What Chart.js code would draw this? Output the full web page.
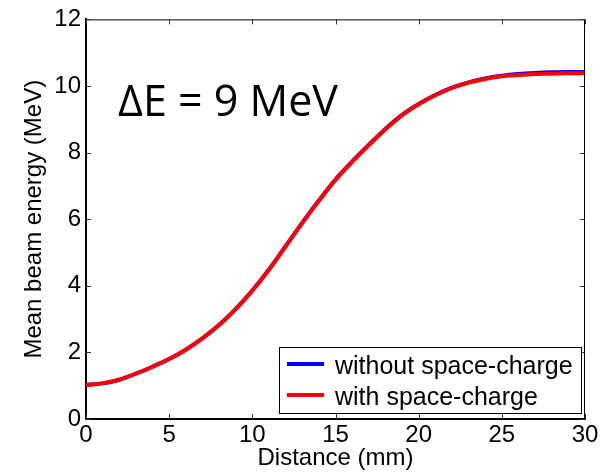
<!DOCTYPE html>
<html>
<head>
<meta charset="utf-8">
<script src="https://cdn.jsdelivr.net/npm/chart.js@4/dist/chart.umd.min.js"></script>
<style>
  html, body { margin: 0; padding: 0; background: #fff; }
  #wrap { width: 610px; height: 472px; position: relative; }
</style>
</head>
<body>
<div id="wrap"><canvas id="c" width="610" height="472"></canvas></div>
<script>
// Distance along the structure (mm)
const distance = [0,1,2,3,4,5,6,7,8,9,10,11,12,13,14,15,16,17,18,19,20,21,22,23,24,25,26,27,28,29,30];
// Mean beam energy (MeV), without space-charge
const energyNoSC = [1.02,1.07,1.18,1.36,1.57,1.80,2.08,2.42,2.82,3.30,3.86,4.49,5.19,5.89,6.56,7.19,7.73,8.23,8.71,9.13,9.46,9.73,9.95,10.11,10.23,10.31,10.36,10.39,10.41,10.42,10.42];
// Mean beam energy (MeV), with space-charge
const energySC = [1.02,1.07,1.18,1.36,1.57,1.80,2.08,2.42,2.82,3.30,3.85,4.48,5.18,5.88,6.55,7.18,7.72,8.22,8.70,9.12,9.45,9.72,9.94,10.10,10.21,10.29,10.33,10.36,10.37,10.38,10.38];
const xTicks = [0,5,10,15,20,25,30];
const yTicks = [0,2,4,6,8,10,12];
const seriesNames = ['without space-charge', 'with space-charge'];
const annotation = '\u0394E = 9 MeV';

const LABEL_FONT = 'Liberation Sans, Arial, sans-serif';

const toPoints = (xs, ys) => xs.map((x, i) => ({x: x, y: ys[i]}));

// Inward tick marks on all four sides, thin top/right frame, legend box and annotation
const framePlugin = {
  id: 'frame',
  afterDatasetsDraw(chart) {
    const {ctx, chartArea: a, scales: {x, y}} = chart;
    ctx.save();
    ctx.strokeStyle = '#000';
    ctx.lineWidth = 1;
    ctx.beginPath();
    ctx.moveTo(a.left, a.top + 0.5); ctx.lineTo(a.right, a.top + 0.5);
    ctx.moveTo(a.right - 0.5, a.top); ctx.lineTo(a.right - 0.5, a.bottom);
    ctx.stroke();

    ctx.strokeStyle = '#333';
    const tl = 5;
    ctx.beginPath();
    xTicks.forEach(v => {
      const px = Math.round(x.getPixelForValue(v)) + 0.5;
      ctx.moveTo(px, a.bottom); ctx.lineTo(px, a.bottom - tl);
      ctx.moveTo(px, a.top); ctx.lineTo(px, a.top + tl);
    });
    yTicks.forEach(v => {
      const py = Math.round(y.getPixelForValue(v)) + 0.5;
      ctx.moveTo(a.left, py); ctx.lineTo(a.left + tl, py);
      ctx.moveTo(a.right, py); ctx.lineTo(a.right - tl, py);
    });
    ctx.stroke();

    // annotation
    ctx.fillStyle = '#000';
    ctx.font = '43px "Open Sans", sans-serif';
    ctx.textBaseline = 'alphabetic';
    ctx.textAlign = 'left';
    ctx.fillText(annotation, 118, 116);

    // legend
    const bx = 279.5, by = 347.5, bw = 302, bh = 66;
    ctx.fillStyle = '#fff';
    ctx.fillRect(bx, by, bw, bh);
    ctx.strokeStyle = '#000';
    ctx.lineWidth = 1;
    ctx.strokeRect(bx, by, bw, bh);
    const colors = chart.data.datasets.map(d => d.borderColor);
    const rows = [364, 395];
    ctx.font = '25px ' + LABEL_FONT;
    seriesNames.forEach((name, i) => {
      ctx.strokeStyle = colors[i];
      ctx.lineWidth = 4;
      ctx.beginPath();
      ctx.moveTo(287, rows[i]); ctx.lineTo(324, rows[i]);
      ctx.stroke();
      ctx.fillStyle = '#000';
      ctx.fillText(name, 335, rows[i] + 10);
    });
    ctx.restore();
  }
};

new Chart(document.getElementById('c'), {
  type: 'line',
  data: {
    datasets: [
      { label: seriesNames[0], data: toPoints(distance, energyNoSC), borderColor: '#0000ff',
        borderWidth: 4, pointRadius: 0, cubicInterpolationMode: 'monotone', order: 2 },
      { label: seriesNames[1], data: toPoints(distance, energySC), borderColor: '#ff0000',
        borderWidth: 4, pointRadius: 0, cubicInterpolationMode: 'monotone', order: 1 }
    ]
  },
  options: {
    responsive: false,
    animation: false,
    devicePixelRatio: 1,
    layout: { padding: { top: 19, right: 25, left: 0, bottom: 0 } },
    plugins: { legend: { display: false }, tooltip: { enabled: false } },
    scales: {
      x: {
        type: 'linear', min: 0, max: 30,
        grid: { display: false, drawTicks: false },
        border: { display: true, color: '#000', width: 2 },
        afterBuildTicks: s => { s.ticks = xTicks.map(v => ({value: v})); },
        ticks: { padding: 2, color: '#000', font: { family: LABEL_FONT, size: 24 } },
        afterFit: s => { s.height = 53; },
        title: { display: true, text: 'Distance (mm)', color: '#000', padding: { top: 0, bottom: 0 },
                 font: { family: LABEL_FONT, size: 24, lineHeight: 1.1 } }
      },
      y: {
        min: 0, max: 12,
        grid: { display: false, drawTicks: false },
        border: { display: true, color: '#000', width: 2 },
        afterBuildTicks: s => { s.ticks = yTicks.map(v => ({value: v})); },
        ticks: { padding: 5, color: '#000', font: { family: LABEL_FONT, size: 24 } },
        afterFit: s => { s.width = 86; },
        title: { display: true, text: 'Mean beam energy (MeV)', color: '#000', padding: { top: 20, bottom: 0 },
                 font: { family: LABEL_FONT, size: 24, lineHeight: 1.2 } }
      }
    }
  },
  plugins: [framePlugin]
});
</script>
</body>
</html>
